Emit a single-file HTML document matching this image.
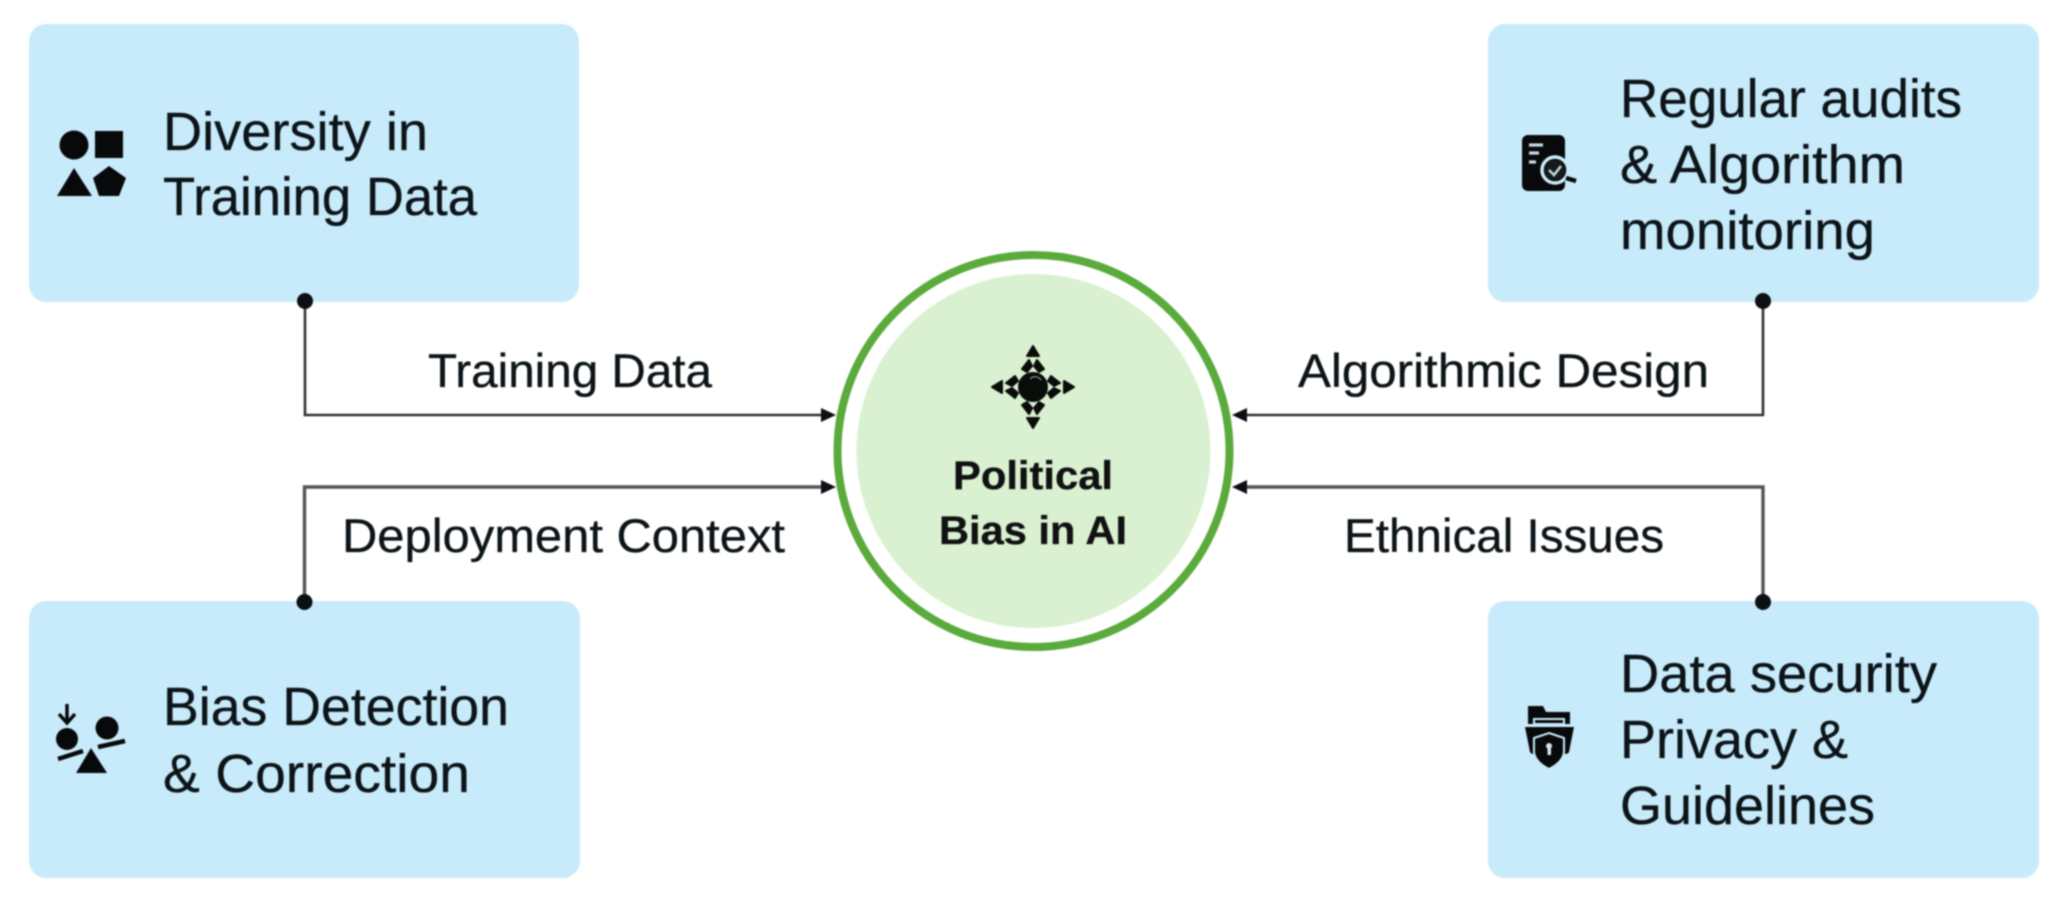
<!DOCTYPE html>
<html>
<head>
<meta charset="utf-8">
<style>
html,body{margin:0;padding:0;background:#fff;width:2060px;height:899px;overflow:hidden}
svg{display:block;filter:blur(.9px)}
text{font-family:"Liberation Sans",Arial,sans-serif;fill:#0c1418;stroke:#0c1418;stroke-width:.35px}
.b{font-size:54px}
.l{font-size:47px}
.c{font-size:40px;font-weight:bold;fill:#111}
</style>
</head>
<body>
<svg width="2060" height="899" viewBox="0 0 2060 899" xmlns="http://www.w3.org/2000/svg">
<rect width="2060" height="899" fill="#fff"/>
<!-- boxes -->
<g fill="#c8ebfb">
<rect x="29" y="24" width="550" height="278" rx="17"/>
<rect x="1488" y="24" width="551" height="278" rx="17"/>
<rect x="29" y="601" width="551" height="277" rx="17"/>
<rect x="1488" y="601" width="551" height="277" rx="17"/>
</g>
<!-- connectors -->
<g fill="none" stroke="#333" stroke-width="2.6">
<path d="M305 302V415H830"/>
<path d="M1763 302V415H1240"/>
</g>
<g fill="none" stroke="#555" stroke-width="3.4">
<path d="M304.500 602V487H830"/>
<path d="M1763 602V487H1240"/>
</g>
<g fill="#0c0f14">
<circle cx="305" cy="301" r="8"/>
<circle cx="1763" cy="301" r="8"/>
<circle cx="304.500" cy="602" r="8"/>
<circle cx="1763" cy="602" r="8"/>
<path d="M836 415L821 408V422Z"/>
<path d="M836 487L821 480V494Z"/>
<path d="M1232 415L1247 408V422Z"/>
<path d="M1232 487L1247 480V494Z"/>
</g>
<!-- circle -->
<circle cx="1033.500" cy="451" r="196" fill="#fff" stroke="#5aaa3c" stroke-width="8"/>
<circle cx="1033.500" cy="451" r="177" fill="#d9f1d0"/>
<!-- center icon -->
<g fill="#0a0c0a" stroke="#0a0c0a" stroke-width="2" stroke-linejoin="round" transform="translate(1033 387)">
<circle r="14"/>
<g><path d="M0 -41L6 -31H-6Z"/><path d="M-4 -27L-11 -18L-6 -15L-1 -21Z"/><path d="M4 -27L11 -18L6 -15L1 -21Z"/></g>
<g transform="rotate(90)"><path d="M0 -41L6 -31H-6Z"/><path d="M-4 -27L-11 -18L-6 -15L-1 -21Z"/><path d="M4 -27L11 -18L6 -15L1 -21Z"/></g>
<g transform="rotate(180)"><path d="M0 -41L6 -31H-6Z"/><path d="M-4 -27L-11 -18L-6 -15L-1 -21Z"/><path d="M4 -27L11 -18L6 -15L1 -21Z"/></g>
<g transform="rotate(270)"><path d="M0 -41L6 -31H-6Z"/><path d="M-4 -27L-11 -18L-6 -15L-1 -21Z"/><path d="M4 -27L11 -18L6 -15L1 -21Z"/></g>
<path d="M-3 -8A7 7 0 0 1 8 -7" fill="none" stroke="#8a988a" stroke-width="1.200"/>
</g>
<text class="c" x="953" y="489" textLength="160" lengthAdjust="spacingAndGlyphs">Political</text>
<text class="c" x="939" y="544" textLength="188" lengthAdjust="spacingAndGlyphs">Bias in AI</text>
<!-- TL icon -->
<g fill="#08090b">
<circle cx="74" cy="145" r="14.500"/>
<rect x="95" y="131" width="28" height="27"/>
<path d="M74 168L92 196H57Z"/>
<path d="M109 166L126 178L119 196H99L93 178Z"/>
</g>
<!-- BL icon -->
<g fill="#08090b" stroke="none">
<circle cx="67" cy="739" r="11"/>
<circle cx="107" cy="728" r="11.500"/>
<path d="M91 748L107 773H76Z"/>
</g>
<g fill="none" stroke="#08090b" stroke-width="4.500">
<path d="M58 759L83 751"/>
<path d="M98 747L125 741"/>
<path d="M67 704V722M59 714L67 723L75 714" stroke-width="3.500"/>
</g>
<!-- TR icon -->
<rect x="1522" y="135" width="43" height="56" rx="6" fill="#08090b"/>
<g stroke="#c4d8df" stroke-width="3.200" fill="none">
<path d="M1529 145H1543M1529 153H1539M1529 162H1536"/>
</g>
<circle cx="1555" cy="170" r="13" fill="#08090b" stroke="#c8ebfb" stroke-width="3.500"/>
<circle cx="1555" cy="170" r="10" fill="#151a1c"/>
<path d="M1566 178L1576 181" stroke="#08090b" stroke-width="4.500"/>
<path d="M1549 170L1554 175L1561 166" fill="none" stroke="#c8d8dd" stroke-width="2.500"/>
<!-- BR icon -->
<g fill="#08090b">
<path d="M1528 706H1543L1546 712H1570V724H1528Z"/>
<rect x="1533" y="718" width="32" height="8" fill="#c8ebfb"/>
<rect x="1535" y="720" width="28" height="3" fill="#08090b"/>
<path d="M1525 727H1574L1569 752Q1568 754 1565 754H1534Q1531 754 1530 752Z"/>
</g>
<path d="M1549 733L1564 738V752Q1563 762 1549 769Q1535 762 1534 752V738Z" fill="#08090b" stroke="#c8ebfb" stroke-width="2"/>
<rect x="1547.500" y="745" width="3.500" height="10" fill="#d4e4ea"/>
<circle cx="1549" cy="746" r="3" fill="#d4e4ea"/>
<!-- box text -->
<g class="b">
<text x="163" y="150" textLength="265" lengthAdjust="spacingAndGlyphs">Diversity in</text>
<text x="163" y="215" textLength="314" lengthAdjust="spacingAndGlyphs">Training Data</text>
<text x="1620" y="117" textLength="342" lengthAdjust="spacingAndGlyphs">Regular audits</text>
<text x="1620" y="183" textLength="285" lengthAdjust="spacingAndGlyphs">&amp; Algorithm</text>
<text x="1620" y="249" textLength="255" lengthAdjust="spacingAndGlyphs">monitoring</text>
<text x="163" y="725" textLength="346" lengthAdjust="spacingAndGlyphs">Bias Detection</text>
<text x="163" y="792" textLength="307" lengthAdjust="spacingAndGlyphs">&amp; Correction</text>
<text x="1620" y="692" textLength="317" lengthAdjust="spacingAndGlyphs">Data security</text>
<text x="1620" y="758" textLength="228" lengthAdjust="spacingAndGlyphs">Privacy &amp;</text>
<text x="1620" y="824" textLength="255" lengthAdjust="spacingAndGlyphs">Guidelines</text>
</g>
<!-- connector labels -->
<g class="l">
<text x="428" y="387" textLength="284" lengthAdjust="spacingAndGlyphs">Training Data</text>
<text x="342" y="552" textLength="443" lengthAdjust="spacingAndGlyphs">Deployment Context</text>
<text x="1298" y="387" textLength="411" lengthAdjust="spacingAndGlyphs">Algorithmic Design</text>
<text x="1344" y="552" textLength="320" lengthAdjust="spacingAndGlyphs">Ethnical Issues</text>
</g>
</svg>
</body>
</html>
